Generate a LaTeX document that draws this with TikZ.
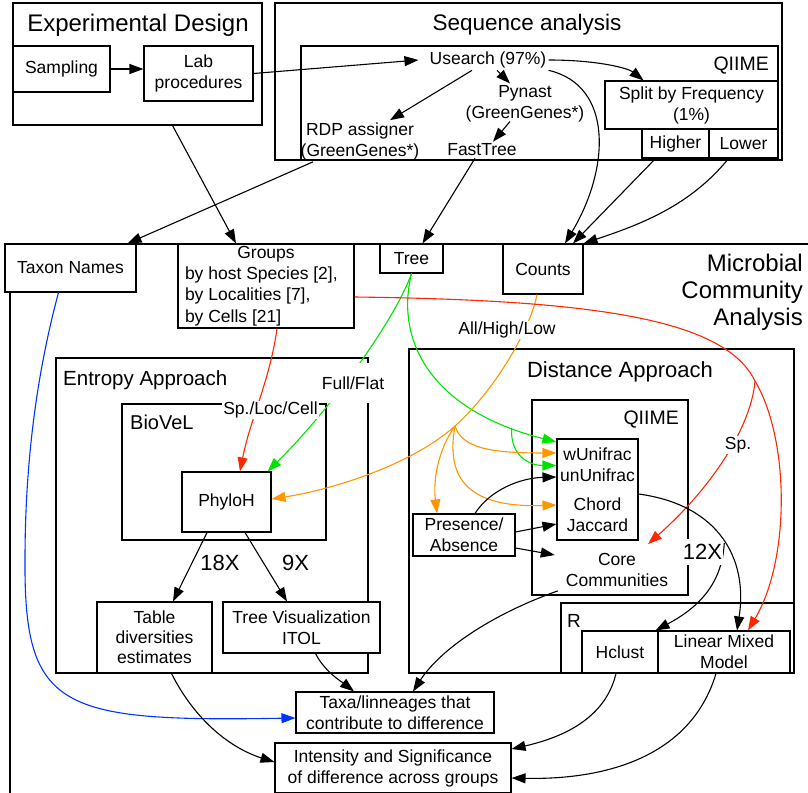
\documentclass[tikz,border=0pt]{standalone}
\usepackage{fontspec}
\setmainfont{Liberation Sans}
\usetikzlibrary{arrows.meta,calc}
\definecolor{cred}{RGB}{255,38,0}
\definecolor{cgreen}{RGB}{0,226,0}
\definecolor{corange}{RGB}{255,150,0}
\definecolor{cblue}{RGB}{0,51,255}
\newcommand\myfs[2]{\fontsize{#1pt}{#2pt}\selectfont}
\begin{document}
\begin{tikzpicture}[x=1pt,y=-1pt,
  frame/.style={draw, line width=1.1pt, inner sep=0pt},
  box/.style={draw, line width=1.1pt, fill=white, inner sep=0pt, align=center, font=\myfs{17.5}{21}},
  txt/.style={inner sep=2pt, align=center, font=\myfs{17.5}{21}},
  lbl/.style={fill=white, inner sep=1pt, font=\myfs{17.5}{21}},
  conn/.style={line width=1.1pt, -{Triangle[length=14pt,width=10pt]}},
  gconn/.style={conn, draw=cgreen},
  oconn/.style={conn, draw=corange},
  rconn/.style={conn, draw=cred},
  bconn/.style={conn, draw=cblue},
  bigtitle/.style={inner sep=1pt, font=\myfs{24}{27}},
  midtitle/.style={inner sep=1pt, font=\myfs{22}{26}},
  smalltitle/.style={inner sep=1pt, font=\myfs{20}{24}}]
\useasboundingbox (0,0) rectangle (808,792);
\clip (0,0) rectangle (808,792);

% ---------- frames ----------
\node[frame, minimum width=249pt, minimum height=122pt] (expdesign) at (137.5,64) {};
\node[bigtitle] (exptitle) at (138,25) {Experimental Design};
\node[frame, minimum width=507pt, minimum height=157pt] (seqan) at (528.5,81.5) {};
\node[midtitle, font=\myfs{22.5}{26}] (seqtitle) at (527,25) {Sequence analysis};
\node[frame, minimum width=477pt, minimum height=114pt] (qiimeA) at (539.5,103) {};
\node[smalltitle, font=\myfs{19.5}{24}, anchor=east] (qiimeAt) at (770,66) {QIIME};

\draw[line width=1.1pt] (10,244) rectangle (900,900);
\node[bigtitle, align=right, anchor=east] (mcat) at (804,292) {Microbial\\Community\\Analysis};

\node[frame, minimum width=312pt, minimum height=315pt] (entropy) at (212,515.5) {};
\node[smalltitle, font=\myfs{20.5}{24}, anchor=west] (entropyt) at (62,380) {Entropy Approach};
\node[frame, minimum width=204pt, minimum height=136pt] (biovel) at (224,472) {};
\node[smalltitle, anchor=west] (biovelt) at (129,422) {BioVeL};

\node[frame, minimum width=385pt, minimum height=324pt] (distance) at (601.5,511) {};
\node[midtitle] (distancet) at (620,372) {Distance Approach};
\node[frame, minimum width=156pt, minimum height=195pt] (qiimeB) at (610,497.5) {};
\node[smalltitle, font=\myfs{19.5}{24}, anchor=east] (qiimeBt) at (680,420) {QIIME};
\node[frame, minimum width=233pt, minimum height=70pt] (rbox) at (677.5,638) {};
\node[smalltitle, font=\myfs{19}{24}, anchor=west] (rboxt) at (566,621) {R};

% ---------- boxes ----------
\node[box, minimum width=97pt, minimum height=46pt] (sampling) at (61.5,69) {Sampling};
\node[box, minimum width=109pt, minimum height=55pt] (lab) at (198.5,73.5) {Lab\\procedures};
\node[box, minimum width=173pt, minimum height=48pt] (split) at (691.5,105) {Split by Frequency\\(1\%)};
\node[box, minimum width=67pt, minimum height=29pt] (higher) at (675.5,143.5) {Higher};
\node[box, minimum width=69pt, minimum height=29pt] (lower) at (743.5,143.5) {Lower};

\node[txt] (usearch) at (488,60) {Usearch (97\%)};
\node[txt] (pynast) at (525,104) {Pynast\\(GreenGenes*)};
\node[txt] (rdp) at (360,141) {RDP assigner\\(GreenGenes*)};
\node[txt] (fasttree) at (482,150) {FastTree};

\node[box, minimum width=131pt, minimum height=48pt] (taxon) at (70.5,268) {Taxon Names};
\node[box, minimum width=176pt, minimum height=84pt, align=left, font=\myfs{17.5}{21.3}] (groups) at (266,286)
  {\makebox[162pt][c]{Groups}\\by host Species [2],\\by Localities [7],\\by Cells [21]};
\node[box, minimum width=63pt, minimum height=29pt] (tree) at (411.5,258.5) {Tree};
\node[box, minimum width=80pt, minimum height=50pt] (counts) at (543,269) {Counts};

\node[box, minimum width=89pt, minimum height=60pt] (phyloh) at (226.5,502) {PhyloH};
\node[box, minimum width=115pt, minimum height=71pt, font=\myfs{17.5}{20}] (table) at (154.5,637.5) {Table\\diversities\\estimates};
\node[box, minimum width=157pt, minimum height=51pt] (treevis) at (301.5,627.5) {Tree Visualization\\ITOL};

\node[box, minimum width=81pt, minimum height=101pt] (metrics) at (597.5,489.5) {wUnifrac\\unUnifrac\\[8pt]Chord\\Jaccard};
\node[box, minimum width=102pt, minimum height=42pt] (presence) at (464,535) {Presence/\\Absence};
\node[txt] (core) at (617,570) {Core\\Communities};
\node[box, minimum width=76pt, minimum height=42pt] (hclust) at (620,652) {Hclust};
\node[box, minimum width=132pt, minimum height=42pt] (lmm) at (724,652) {Linear Mixed\\Model};

\node[box, minimum width=198pt, minimum height=41pt] (taxa) at (395,712.5) {Taxa/linneages that\\contribute to difference};
\node[box, minimum width=236pt, minimum height=50pt] (intensity) at (393,768) {Intensity and Significance\\of difference across groups};

% ---------- connectors: top ----------
\draw[conn] (sampling.east) -- (sampling.east -| lab.west);
\draw[conn] (lab.east) -- ([xshift=-9pt]usearch.west);
\draw[conn] ([xshift=-16pt]usearch.south) -- ([xshift=30pt]rdp.north);
\draw[conn] ([xshift=9pt]usearch.south) -- ([xshift=-15pt]pynast.north);
\draw[conn] ([xshift=-15pt,yshift=3pt]pynast.south) -- ([xshift=11pt]fasttree.north);
\draw[conn] (usearch.east) .. controls +(50,0) and +(-15,-12) .. ([xshift=-48pt]split.north);
\draw[conn] (usearch.south east) .. controls +(65,15) and +(45,-75) .. ([xshift=22pt]counts.north);
\draw[conn] ([xshift=-20pt]higher.south) -- ([xshift=30pt]counts.north);
\draw[conn] ([xshift=-15pt]lower.south) .. controls +(-38,47) and +(57,-19) .. (counts.north east);
\draw[conn] ([xshift=-7pt]fasttree.south) -- ([xshift=11pt]tree.north);
\draw[conn] ([xshift=-47pt]rdp.south) -- ([xshift=57pt]taxon.north);
\draw[conn] ([xshift=35pt]expdesign.south) -- ([xshift=-30pt]groups.north);

% ---------- coloured connectors ----------
\draw[bconn] ([xshift=-12pt]taxon.south) .. controls (35,380) and (25,470) .. (25,560)
  .. controls (24,710) and (60,722) .. ([yshift=-5.5pt]taxa.west);

\draw[gconn] (tree.south) .. controls (395,320) and (330,410) .. ([xshift=-4pt]phyloh.north east);
\draw[gconn] (tree.south) .. controls (395,340) and (430,410) .. coordinate[pos=0.87] (gb) ([yshift=47.5pt]metrics.west);
\draw[gconn] (gb) .. controls +(-2,28) and +(-27,0) .. ([yshift=24pt]metrics.west);

\coordinate (hub) at (455,426);
\draw[oconn] ([xshift=-6pt]counts.south) .. controls (530,330) and (495,390) .. (hub)
  .. controls (410,466) and (330,490) .. ([yshift=3pt]phyloh.east);
\draw[oconn] (hub) .. controls (438,450) and (433,480) .. ([xshift=-27pt]presence.north);
\draw[oconn] (hub) .. controls (462,448) and (490,453) .. ([yshift=36.5pt]metrics.west);
\draw[oconn] (hub) .. controls (445,480) and (470,508) .. ([yshift=-15.5pt]metrics.west);

\draw[rconn] ([xshift=11pt]groups.south) .. controls (270,380) and (250,420) .. ([xshift=13.5pt]phyloh.north);
\coordinate (rhub) at (755,381);
\draw[rconn] ([yshift=-11pt]groups.east) .. controls (600,300) and (725,320) .. (rhub)
  .. controls (790,440) and (790,560) .. ([xshift=24pt]lmm.north);
\draw[rconn] (rhub) .. controls (752,420) and (720,480) .. ([xshift=31pt,yshift=7pt]core.north);

% ---------- connectors: analysis ----------
\draw[conn] ([xshift=-19.5pt]phyloh.south) -- ([xshift=18.5pt]table.north);
\draw[conn] ([xshift=18.5pt]phyloh.south) -- ([xshift=-14.5pt]treevis.north);

\draw[conn] ([xshift=11pt]presence.north) .. controls (490,490) and (520,478) .. ([yshift=12.5pt]metrics.west);
\draw[conn] ([yshift=3pt]presence.east) -- ([yshift=-34.5pt]metrics.west);
\draw[conn] ([yshift=-13pt]presence.east) -- ([xshift=-9pt,yshift=15pt]core.west);

\draw[conn] ([yshift=-4.5pt]metrics.east) .. controls (720,505) and (748,560) .. coordinate[pos=0.52] (kb) ([xshift=13pt]lmm.north);
\draw[conn] (kb) .. controls (722,590) and (690,612) .. ([xshift=-3pt]hclust.north east);

\draw[conn] ([xshift=-6pt,yshift=-2pt]core.south west) .. controls (490,615) and (440,650) .. ([xshift=18pt]taxa.north);
\draw[conn] ([xshift=14pt]treevis.south) .. controls (325,672) and (342,682) .. ([xshift=-41pt]taxa.north);
\draw[conn] ([xshift=17pt]table.south) .. controls (195,720) and (230,748) .. ([yshift=6pt]intensity.west);
\draw[conn] ([xshift=-4pt]hclust.south) .. controls (605,720) and (560,738) .. ([yshift=19pt]intensity.east);
\draw[conn] ([xshift=-8pt]lmm.south) .. controls (690,760) and (600,780) .. ([yshift=-10pt]intensity.east);

% ---------- labels ----------
\node[lbl] (lsploc) at (270.5,410) {Sp./Loc/Cell};
\node[lbl, inner xsep=3pt, minimum height=40pt] (lfull) at (353,383) {Full/Flat};
\node[lbl] (lall) at (507,330) {All/High/Low};
\node[lbl] (lsp) at (738,445) {Sp.};
\node[lbl, font=\myfs{22}{26}, inner ysep=5pt] (l12) at (702.5,552) {12X};
\node[inner sep=1pt, font=\myfs{22}{26}] (l18) at (220,563) {18X};
\node[inner sep=1pt, font=\myfs{22}{26}] (l9) at (295.5,563) {9X};
\end{tikzpicture}
\end{document}
